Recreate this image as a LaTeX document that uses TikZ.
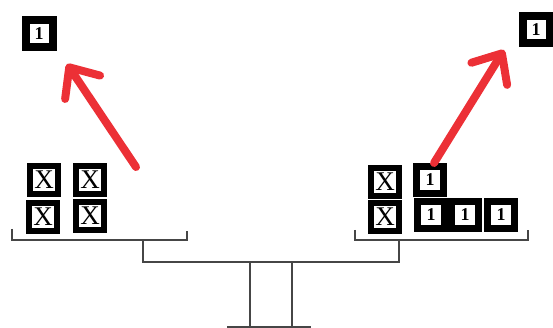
\documentclass[tikz,border=0pt]{standalone}
\usepackage{fontspec}
\setmainfont{Liberation Serif}
\usepackage{tikz}
\usetikzlibrary{positioning, arrows.meta}
\definecolor{penred}{RGB}{236,48,54}
\definecolor{scalegray}{RGB}{70,70,70}

\begin{document}
\begin{tikzpicture}[x=1pt, y=-1pt,
  tile/.style={draw, line width=6pt, minimum size=28pt, inner sep=0pt, fill=white},
  xtile/.style={tile, font=\fontsize{27}{27}\selectfont},
  onetile/.style={tile, line width=7pt, minimum size=27pt, font=\bfseries\fontsize{18}{18}\selectfont},
  lifted/.style={onetile, line width=8pt, minimum size=27pt},
  pen/.style={penred, line width=8pt, line cap=round,
    -{Straight Barb[round, length=24pt, width=42pt]}},
  beam/.style={scalegray, line width=2pt}]
\useasboundingbox (0,0) rectangle (553,328);
% Lifted tiles
\node[lifted] (liftL) at (39,34) {1};
\node[lifted] (liftR) at (536,30) {1};
% Left pan: four X tiles
\node[xtile] (xa) at (44,180) {X};
\node[xtile] (xb) at (90,180) {X};
\node[xtile] (xc) at (43,217) {X};
\node[xtile] (xd) at (90,216) {X};
% Right pan: two X tiles and four 1 tiles
\node[xtile] (xe) at (385,182) {X};
\node[xtile] (xf) at (385,217) {X};
\node[onetile] (oa) at (430,180) {1};
\node[onetile] (ob) at (431,215) {1};
\node[onetile] (oc) at (465,215) {1};
\node[onetile] (od) at (501,215) {1};
% Arrow ends
\coordinate (tailL) at (136,167);
\coordinate (tipL) at (67,64);
\coordinate (tailR) at (434,163);
\coordinate (tipR) at (504,50);
% Arrows
\draw[pen] (tailL) -- (tipL);
\draw[pen] (tailR) -- (tipR);
% Scale
\draw[beam] (12,229) -- (12,240) -- (187,240) -- (187,231);
\draw[beam] (355,230) -- (355,240) -- (528,240) -- (528,230);
\draw[beam] (143,240) -- (143,262) -- (399,262) -- (399,240);
\draw[beam] (250,262) -- (250,327);
\draw[beam] (292,262) -- (292,327);
\draw[beam] (227,327) -- (311,327);
\end{tikzpicture}
\end{document}
